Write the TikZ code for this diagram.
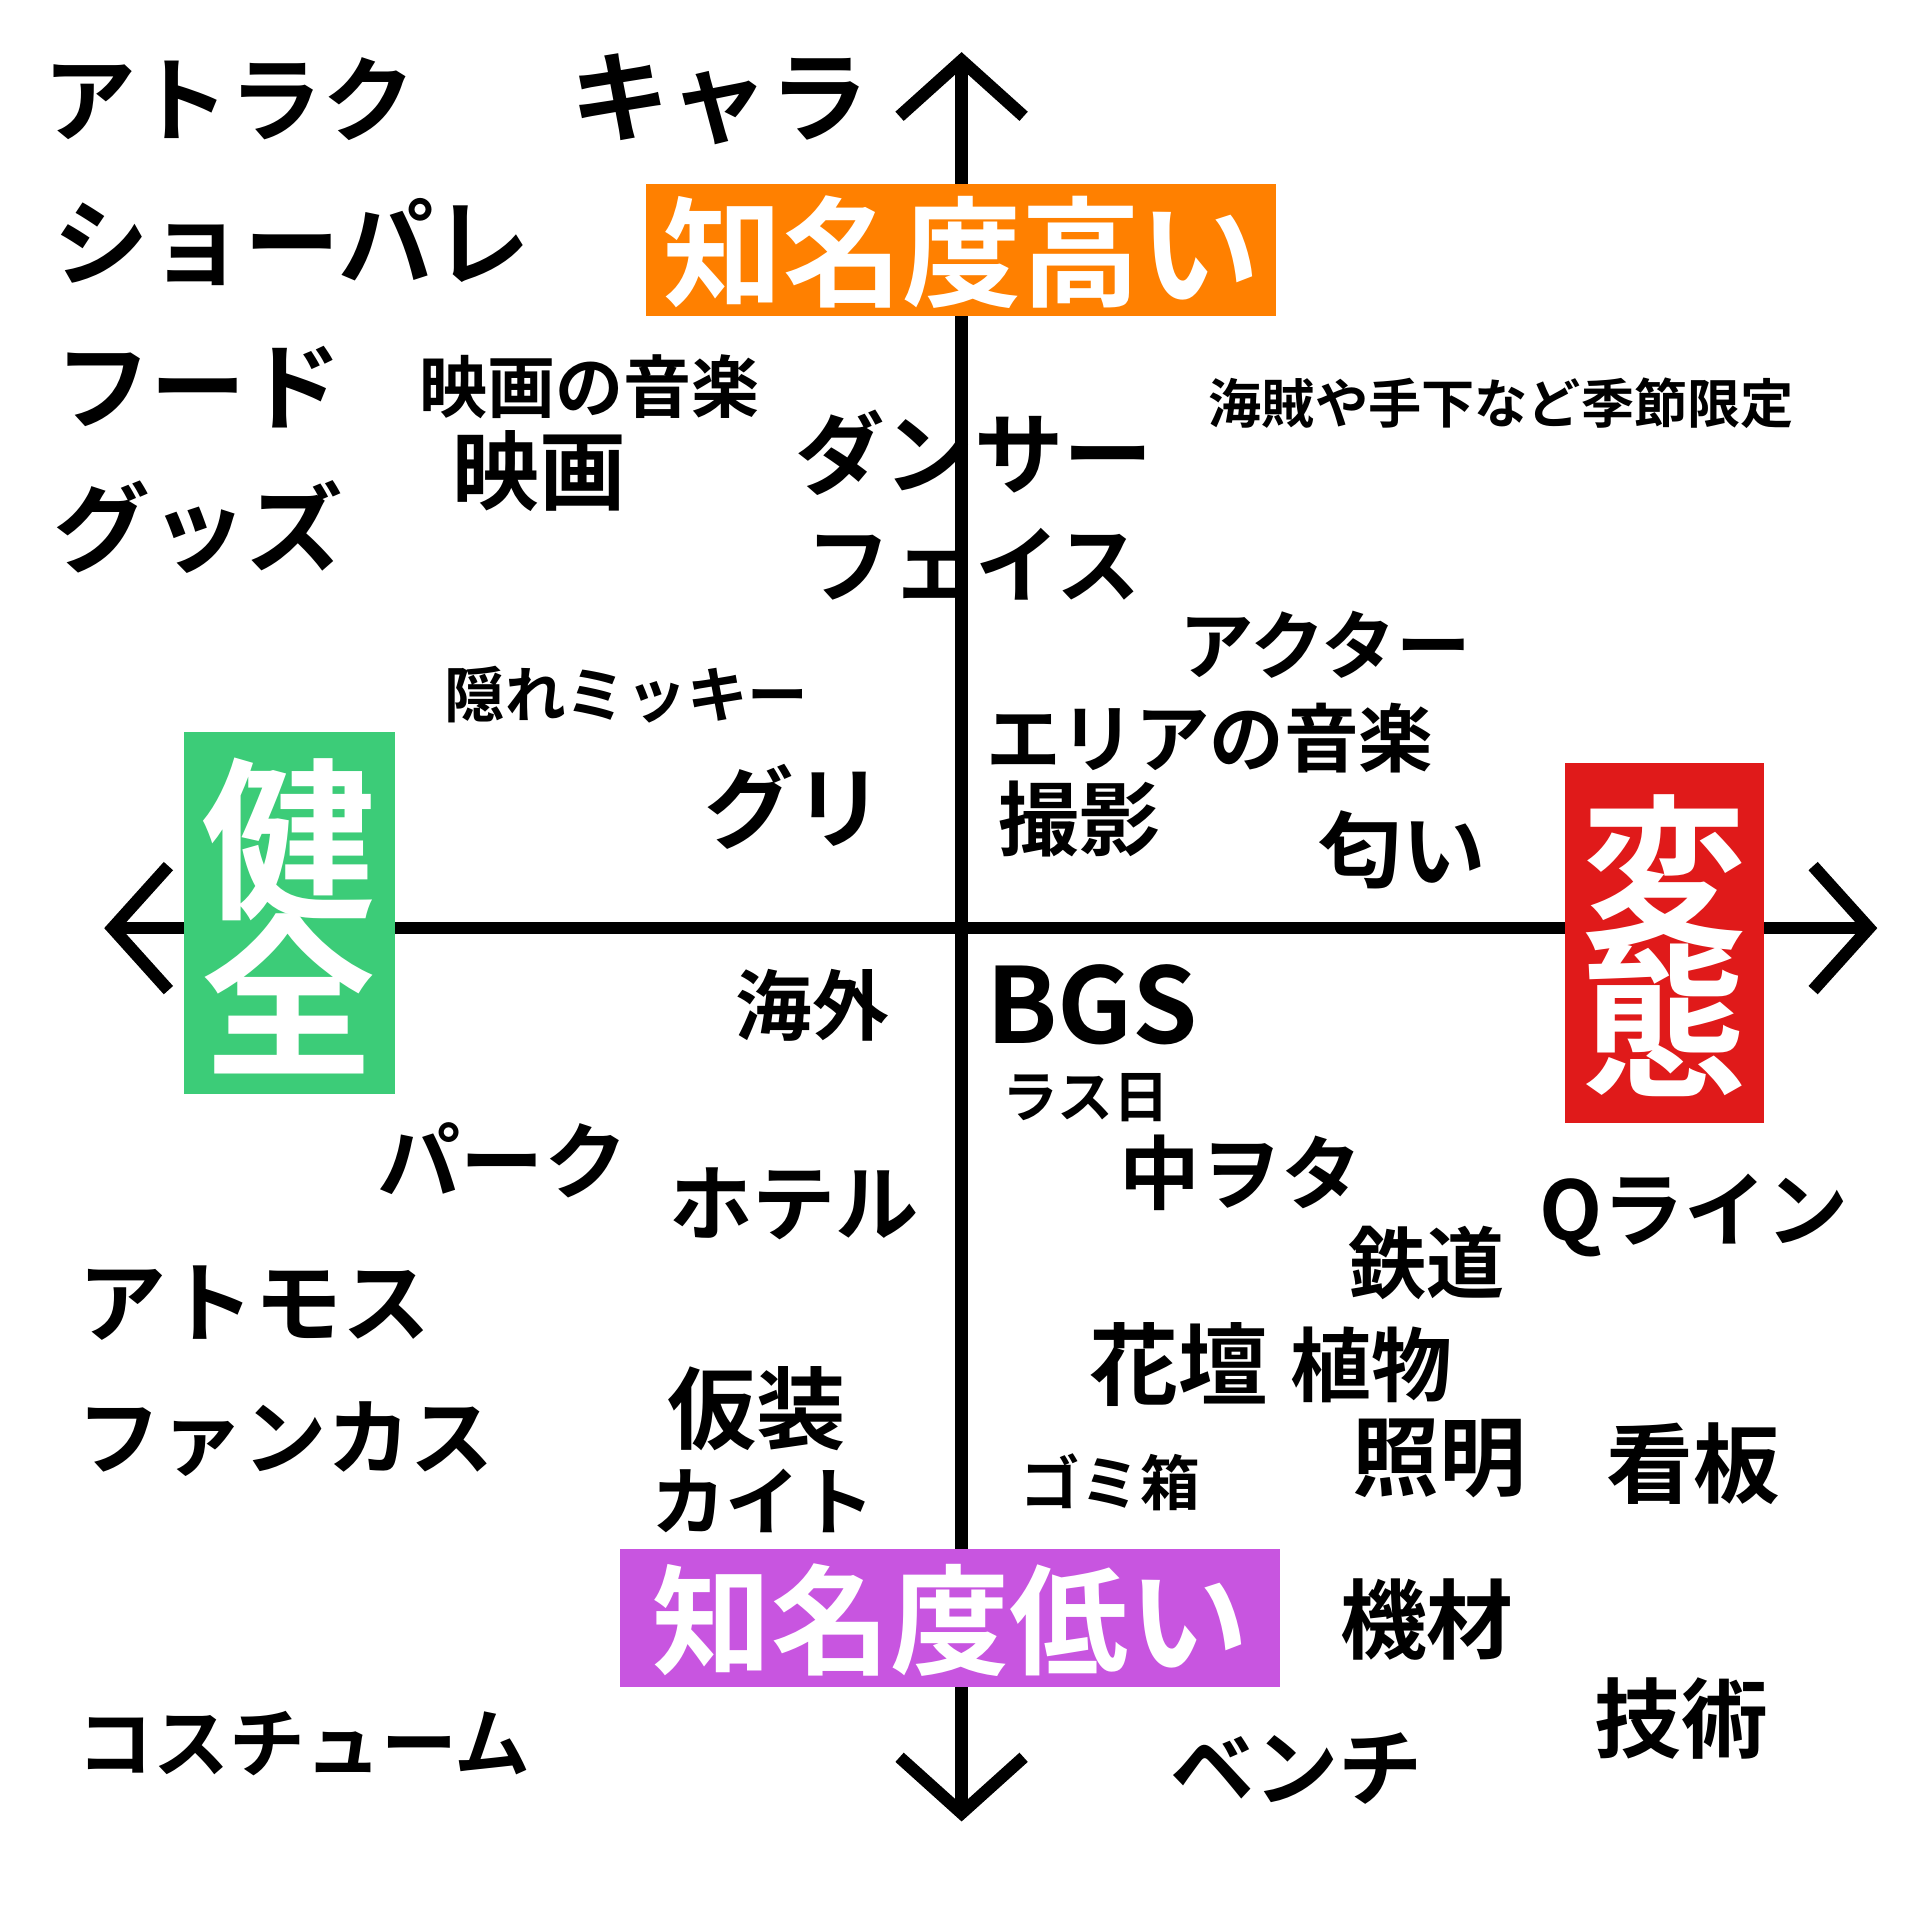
\documentclass[tikz,border=0pt]{standalone}
\usepackage{fontspec}
\newfontfamily\jp{Noto Sans CJK JP}[BoldFont={* Bold}]
\usetikzlibrary{arrows.meta}
\definecolor{hiorange}{HTML}{FF8000}
\definecolor{lopurple}{HTML}{C855E0}
\definecolor{okgreen}{HTML}{3CCC78}
\definecolor{oddred}{HTML}{E01A1A}
\tikzset{
  word/.style={font=\jp\bfseries\fontsize{#1pt}{#1pt}\selectfont, inner sep=0pt},
  tag/.style={fill=#1, text=white, inner sep=0pt},
  axis/.style={line width=1mm, -{Straight Barb[length=4.5mm,width=10mm,line width=1mm]}}
}
\begin{document}
\begin{tikzpicture}[x=0.1mm,y=-0.1mm]
  \useasboundingbox (0,0) rectangle (1545,1545);
  % axes
  \coordinate (o) at (775,748);
  \coordinate (top) at (775,42);
  \coordinate (bot) at (775,1468);
  \coordinate (lft) at (84,748);
  \coordinate (rgt) at (1513,748);
  \draw[axis] (o) -- (top);
  \draw[axis] (o) -- (bot);
  \draw[axis] (o) -- (lft);
  \draw[axis] (o) -- (rgt);
  % axis labels
  \fill[hiorange] (521,148) rectangle (1028,255);
  \node[word=27.3, text=white] (high) at (775,203) {知名度高い};
  \fill[lopurple] (500,1248) rectangle (1032,1360);
  \node[word=27.3, text=white] (low) at (766,1306) {知名度低い};
  \fill[okgreen] (148,590) rectangle (318,882);
  \node[word=40, text=white, align=center] (sane) at (233,738) {健\\[-4pt]全};
  \fill[oddred] (1261,615) rectangle (1422,905);
  \node[word=38, text=white, align=center] (odd) at (1341,762) {変\\[-4pt]態};
  % upper left
  \node[word=21.3] (attr) at (185,80) {アトラク};
  \node[word=22.8] (chara) at (580,80) {キャラ};
  \node[word=21.9] (show) at (235,195) {ショーパレ};
  \node[word=21.9] (food) at (160,312) {フード};
  \node[word=22.2] (goods) at (160,425) {グッズ};
  \node[word=15.6] (filmmusic) at (475,312) {映画の音楽};
  \node[word=19.9] (film) at (435,380) {映画};
  \node[word=13.9] (hidden) at (505,560) {隠れミッキー};
  \node[word=20.5] (greet) at (640,650) {グリ};
  \node[word=20.5] (dancer) at (785,365) {ダンサー};
  \node[word=19.3] (face) at (785,455) {フェイス};
  % upper right
  \node[word=12.2] (season) at (1210,325) {海賊や手下など季節限定};
  \node[word=17.1] (actor) at (1068,520) {アクター};
  \node[word=17.1] (areamusic) at (975,595) {エリアの音楽};
  \node[word=18.5] (photo) at (870,660) {撮影};
  \node[word=19.1] (smell) at (1130,685) {匂い};
  % lower right
  \node[word=24] (bgs) at (880,810) {BGS};
  \node[word=12.8] (last) at (875,885) {ラス日};
  \node[word=18.5] (otaku) at (1000,945) {中ヲタ};
  \node[word=18.8] (qline) at (1365,980) {Qライン};
  \node[word=17.9] (rail) at (1150,1018) {鉄道};
  \node[word=20.5] (flower) at (950,1100) {花壇};
  \node[word=18.5] (plant) at (1105,1100) {植物};
  \node[word=19.9] (light) at (1160,1175) {照明};
  \node[word=19.9] (sign) at (1365,1180) {看板};
  \node[word=13.7] (trash) at (895,1195) {ゴミ箱};
  \node[word=19.9] (gear) at (1150,1305) {機材};
  \node[word=19.9] (tech) at (1355,1385) {技術};
  \node[word=19.3] (bench) at (1045,1425) {ベンチ};
  % lower left
  \node[word=17.6] (abroad) at (655,810) {海外};
  \node[word=19.1] (park) at (405,935) {パーク};
  \node[word=19.1] (hotel) at (640,970) {ホテル};
  \node[word=20.2] (atmos) at (205,1050) {アトモス};
  \node[word=19.1] (funcas) at (230,1160) {ファンカス};
  \node[word=20.5] (cosplay) at (610,1135) {仮装};
  \node[word=17.1] (kite) at (615,1210) {カイト};
  \node[word=17.4] (costume) at (245,1405) {コスチューム};
\end{tikzpicture}
\end{document}
